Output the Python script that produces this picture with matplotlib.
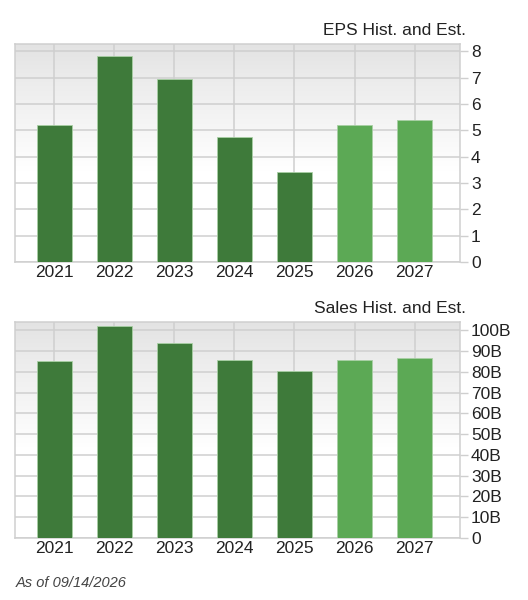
import numpy as np
import matplotlib
matplotlib.use('Agg')
import matplotlib.pyplot as plt
from matplotlib.colors import LinearSegmentedColormap
from matplotlib.ticker import FuncFormatter

matplotlib.rcParams.update({'font.family': ['Liberation Sans', 'DejaVu Sans'],
                            'font.size': 12.5})

years = ['2021', '2022', '2023', '2024', '2025', '2026', '2027']
is_estimate = [False, False, False, False, False, True, True]
eps = [5.18, 7.83, 6.96, 4.74, 3.43, 5.21, 5.40]
sales_b = [85.2, 101.9, 94.0, 85.6, 80.3, 85.6, 86.8]

eps_ticks = [0, 1, 2, 3, 4, 5, 6, 7, 8]
sales_ticks = [0, 10, 20, 30, 40, 50, 60, 70, 80, 90, 100]

DARK = '#3e7a3a'
LIGHT = '#5ca955'
GRID = '#cfcfcf'

bg_cmap = LinearSegmentedColormap.from_list(
    'bg', [(0.0, '#ffffff'), (0.42, '#ffffff'), (0.85, '#ebebeb'), (1.0, '#e3e3e3')])


def draw_panel(ax, values, ticks, ytop, title, fmt):
    x = np.arange(len(values))
    grad = np.linspace(0, 1, 256).reshape(-1, 1)
    ax.imshow(grad, cmap=bg_cmap, origin='lower', aspect='auto',
              extent=[0, 1, 0, 1], transform=ax.transAxes, zorder=0)

    colors = [LIGHT if e else DARK for e in is_estimate]
    ax.bar(x, values, width=0.58, color=colors, edgecolor='#a9d0a5',
           linewidth=0.6, zorder=3)

    ax.set_xlim(-0.658, 6.758)
    ax.set_ylim(0, ytop)

    for t in ticks:
        ax.axhline(t, color=GRID, lw=1.1, zorder=1)
    for xi in x:
        ax.axvline(xi, color=GRID, lw=1.1, zorder=1)

    ax.yaxis.tick_right()
    ax.set_yticks(ticks)
    ax.yaxis.set_major_formatter(FuncFormatter(fmt))
    ax.tick_params(axis='y', length=6, width=1, color=GRID, pad=2,
                   labelcolor='#222222', labelsize=12.5)
    ax.set_xticks(x)
    ax.set_xticklabels(years)
    ax.tick_params(axis='x', length=0, pad=2, labelcolor='#222222', labelsize=12.5)

    for s in ax.spines.values():
        s.set_color(GRID)
        s.set_linewidth(1.1)

    ax.text(1.0135, 1.064, title, transform=ax.transAxes, ha='right',
            va='center', fontsize=12.5, color='#222222')


fig = plt.figure(figsize=(5.28, 6.0), dpi=100)

ax1 = fig.add_axes([0.0284, 0.5633, 0.8428, 0.3633])
draw_panel(ax1, eps, eps_ticks, 8.27, 'EPS Hist. and Est.',
           lambda v, p: f'{v:g}')

ax2 = fig.add_axes([0.0284, 0.1033, 0.8428, 0.36])
draw_panel(ax2, sales_b, sales_ticks, 104, 'Sales Hist. and Est.',
           lambda v, p: '0' if v == 0 else f'{v:g}B')

fig.text(0.029, 1 - 583 / 600, 'As of 09/14/2026', ha='left', va='center',
         fontsize=10.5, style='italic', color='#444444')

fig.savefig('out.png', dpi=100)
